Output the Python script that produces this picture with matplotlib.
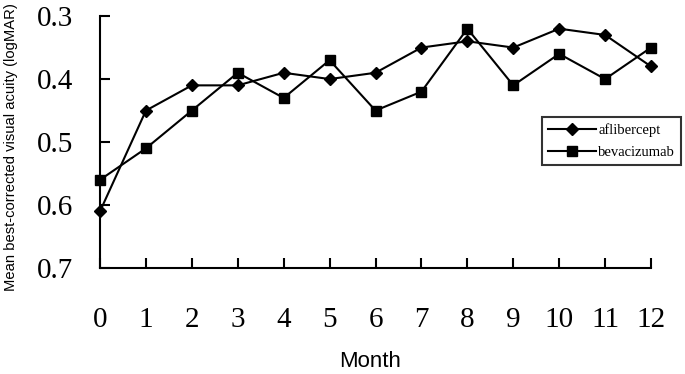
"""Mean best-corrected visual acuity by month, aflibercept vs bevacizumab."""

import matplotlib

matplotlib.use("Agg")
import matplotlib.pyplot as plt

months = list(range(13))
aflibercept = [0.61, 0.45, 0.41, 0.41, 0.39, 0.40, 0.39, 0.35, 0.34, 0.35, 0.32, 0.33, 0.38]
bevacizumab = [0.56, 0.51, 0.45, 0.39, 0.43, 0.37, 0.45, 0.42, 0.32, 0.41, 0.36, 0.40, 0.35]
y_ticks = [0.3, 0.4, 0.5, 0.6, 0.7]

serif = "Liberation Serif"
sans = "Liberation Sans"

fig = plt.figure(figsize=(6.85, 3.74), dpi=100)
ax = fig.add_axes([0.146, 0.2834, 0.8044, 0.6736])

ax.plot(months, aflibercept, color="black", lw=1.5, marker="D", ms=6,
        label="aflibercept", clip_on=False)
ax.plot(months, bevacizumab, color="black", lw=1.5, marker="s", ms=6.5,
        label="bevacizumab", clip_on=False)

ax.set_xlim(0, 12)
ax.set_ylim(0.7, 0.3)
ax.set_xticks(months)
ax.set_yticks(y_ticks)
ax.set_yticklabels([f"{v:.1f}" for v in y_ticks], fontfamily=serif, fontsize=21)
ax.set_xticklabels([str(m) for m in months], fontfamily=serif, fontsize=21)

for side in ("top", "right"):
    ax.spines[side].set_visible(False)
for side in ("left", "bottom"):
    ax.spines[side].set_linewidth(1.5)

ax.tick_params(axis="x", direction="in", length=7, width=1.5, pad=28)
ax.tick_params(axis="y", direction="in", length=7, width=1.5, pad=19)

ax.set_xlabel("Month", fontfamily=sans, fontsize=16)
ax.xaxis.set_label_coords(0.49, -0.33)
ax.set_ylabel("Mean best-corrected visual acuity (logMAR)", fontfamily=sans,
              fontsize=10.6)
ax.yaxis.set_label_coords(-0.148, 0.48)

leg = ax.legend(loc="upper left", bbox_to_anchor=(0.802, 0.599), frameon=True,
                fancybox=False, edgecolor="black", handlelength=3.3,
                prop={"family": serif, "size": 10.5}, borderpad=0.4,
                borderaxespad=0, labelspacing=0.65, handletextpad=0.15)
leg.get_frame().set_linewidth(1.5)

fig.savefig("out.png", dpi=100)
